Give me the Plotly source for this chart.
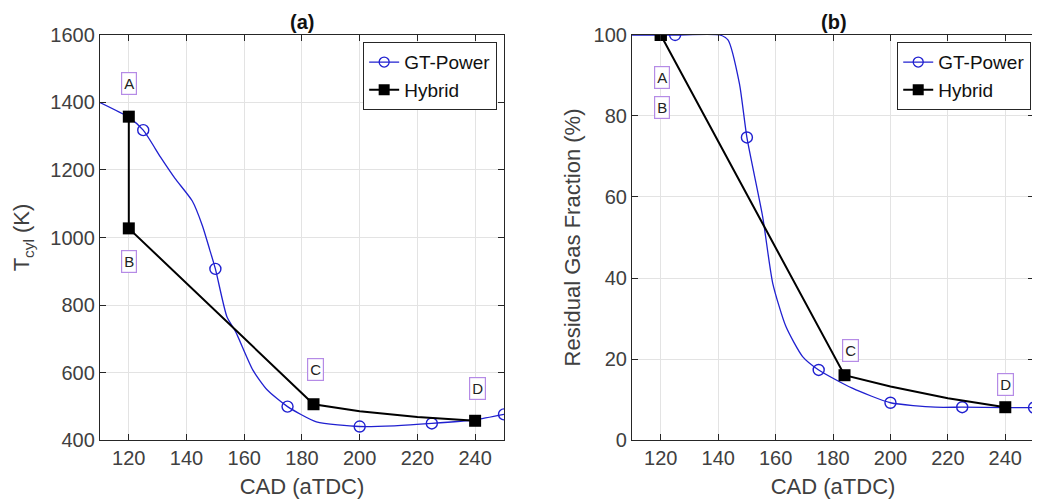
import plotly.graph_objects as go

# ---- Data ----
# Panel (a): cylinder temperature
gt_a_line_cad = [110, 120, 125, 131, 136, 142, 145.5, 148, 150, 154, 157, 163, 168, 175, 185, 200, 212, 225, 240, 250]
gt_a_line_T = [1400, 1356, 1318, 1238, 1175, 1108, 1035, 965, 907, 765, 721, 607, 548, 499, 454, 440, 442, 449, 460, 476]
gt_a_mark_cad = [125, 150, 175, 200, 225, 250]
gt_a_mark_T = [1318, 907, 499, 440, 449, 476]

hy_a_cad = [120, 120, 184, 200, 220, 240]
hy_a_T = [1358, 1027, 506, 485, 468, 457]
hy_a_mark_cad = [120, 120, 184, 240]
hy_a_mark_T = [1358, 1027, 506, 457]

# Panel (b): residual gas fraction
gt_b_line_cad = [110, 125, 140.5, 143.4, 147.4, 150, 155.5, 159, 163.6, 169.4, 175, 186.7, 200, 215.6, 225, 240, 250]
gt_b_line_R = [100, 100, 100, 98.8, 88, 74.7, 55.1, 38.7, 28, 20.6, 17.3, 12.8, 9.2, 8.1, 8.1, 8.0, 8.0]
gt_b_mark_cad = [125, 150, 175, 200, 225, 250]
gt_b_mark_R = [100, 74.7, 17.3, 9.2, 8.1, 8.0]

hy_b_cad = [120, 184, 200, 220, 240]
hy_b_R = [100, 16, 13.2, 10.3, 8.1]
hy_b_mark_cad = [120, 120, 184, 240]
hy_b_mark_R = [100, 100, 16, 8.1]

labels = ["A", "B", "C", "D"]
lab_a_cad = [120, 120, 184.8, 240.9]
lab_a_T = [1455, 930, 610, 554]
lab_b_cad = [120.4, 120.4, 186.2, 240.2]
lab_b_R = [89.6, 82, 22.2, 13.6]

x_ticks = [120, 140, 160, 180, 200, 220, 240]
ya_ticks = [400, 600, 800, 1000, 1200, 1400, 1600]
yb_ticks = [0, 20, 40, 60, 80, 100]

BLUE = "#2020d0"
FONT = "Liberation Sans, Arial, sans-serif"
TXT = "#404040"

# page body has an 8px margin; figure sized to fit the 1040x504 window
W, H = 1032, 496

fig = go.Figure()

def add_panel(xa, ya, lx, ly, mx, my, hx, hy, hmx, hmy):
    fig.add_trace(go.Scatter(x=lx, y=ly, mode="lines", line=dict(color=BLUE, width=1.3, shape="spline", smoothing=0.6),
                             xaxis=xa, yaxis=ya, showlegend=False, hoverinfo="skip"))
    fig.add_trace(go.Scatter(x=mx, y=my, mode="markers",
                             marker=dict(symbol="circle-open", size=11, color=BLUE, line=dict(width=1.4, color=BLUE)),
                             xaxis=xa, yaxis=ya, showlegend=False))
    fig.add_trace(go.Scatter(x=hx, y=hy, mode="lines", line=dict(color="black", width=2),
                             xaxis=xa, yaxis=ya, showlegend=False, hoverinfo="skip"))
    fig.add_trace(go.Scatter(x=hmx, y=hmy, mode="markers",
                             marker=dict(symbol="square", size=12, color="black"),
                             xaxis=xa, yaxis=ya, showlegend=False))

add_panel("x", "y", gt_a_line_cad, gt_a_line_T, gt_a_mark_cad, gt_a_mark_T,
          hy_a_cad, hy_a_T, hy_a_mark_cad, hy_a_mark_T)
add_panel("x2", "y2", gt_b_line_cad, gt_b_line_R, gt_b_mark_cad, gt_b_mark_R,
          hy_b_cad, hy_b_R, hy_b_mark_cad, hy_b_mark_R)

# legend-only traces
for leg, xa, ya in [("legend", "x", "y"), ("legend2", "x2", "y2")]:
    fig.add_trace(go.Scatter(x=[None], y=[None], mode="lines+markers", name="GT-Power",
                             line=dict(color=BLUE, width=1.3),
                             marker=dict(symbol="circle-open", size=10, color=BLUE, line=dict(width=1.3, color=BLUE)),
                             xaxis=xa, yaxis=ya, legend=leg))
    fig.add_trace(go.Scatter(x=[None], y=[None], mode="lines+markers", name="Hybrid",
                             line=dict(color="black", width=2),
                             marker=dict(symbol="square", size=11, color="black"),
                             xaxis=xa, yaxis=ya, legend=leg))

ann = []
for t, x, y in zip(labels, lab_a_cad, lab_a_T):
    ann.append(dict(x=x, y=y, xref="x", yref="y", text=t, showarrow=False,
                    font=dict(family=FONT, size=15, color="#222"), bordercolor="#b58be6",
                    borderwidth=1.2, borderpad=2, bgcolor="white"))
for t, x, y in zip(labels, lab_b_cad, lab_b_R):
    ann.append(dict(x=x, y=y, xref="x2", yref="y2", text=t, showarrow=False,
                    font=dict(family=FONT, size=15, color="#222"), bordercolor="#b58be6",
                    borderwidth=1.2, borderpad=2, bgcolor="white"))
ann.append(dict(x=0.2849, y=0.972, xref="paper", yref="paper", text="<b>(a)</b>", showarrow=False,
                xanchor="center", yanchor="middle", font=dict(family=FONT, size=20, color="#111")))
ann.append(dict(x=0.8004, y=0.972, xref="paper", yref="paper", text="<b>(b)</b>", showarrow=False,
                xanchor="center", yanchor="middle", font=dict(family=FONT, size=20, color="#111")))

axis_common = dict(showline=True, linecolor="#262626", linewidth=1.3, mirror="ticks", ticks="inside",
                   ticklen=6, tickcolor="#262626", showgrid=True, gridcolor="#e3e3e3", gridwidth=1,
                   zeroline=False, automargin=False, tickfont=dict(family=FONT, size=20, color=TXT))
title_font = dict(family=FONT, size=22, color=TXT)

fig.update_layout(
    width=W, height=H,
    margin=dict(l=0, r=0, t=0, b=0, autoexpand=False),
    paper_bgcolor="white", plot_bgcolor="white",
    font=dict(family=FONT),
    xaxis=dict(domain=[0.0891, 0.4806], range=[110, 250], tickvals=x_ticks, anchor="y",
               title=dict(text="CAD (aTDC)", font=title_font, standoff=10),
               **axis_common),
    yaxis=dict(domain=[0.129, 0.9456], range=[400, 1600], tickvals=ya_ticks, anchor="x",
               title=dict(text="T<sub>cyl</sub> (K)", font=title_font, standoff=14),
               **axis_common),
    xaxis2=dict(domain=[0.6047, 0.9942], range=[110, 250], tickvals=x_ticks, anchor="y2",
                title=dict(text="CAD (aTDC)", font=title_font, standoff=10),
                **axis_common),
    yaxis2=dict(domain=[0.129, 0.9456], range=[0, 100], tickvals=yb_ticks, anchor="x2",
                title=dict(text="Residual Gas Fraction (%)", font=title_font, standoff=6),
                **axis_common),
    legend=dict(x=0.4738, y=0.9315, xanchor="right", yanchor="top", bgcolor="white",
                bordercolor="#262626", borderwidth=1.2, font=dict(family=FONT, size=19, color="#111"),
                tracegroupgap=0, itemwidth=30),
    legend2=dict(x=0.9913, y=0.9315, xanchor="right", yanchor="top", bgcolor="white",
                 bordercolor="#262626", borderwidth=1.2, font=dict(family=FONT, size=19, color="#111"),
                 tracegroupgap=0, itemwidth=30),
    annotations=ann,
)

fig.write_html("out.html")
